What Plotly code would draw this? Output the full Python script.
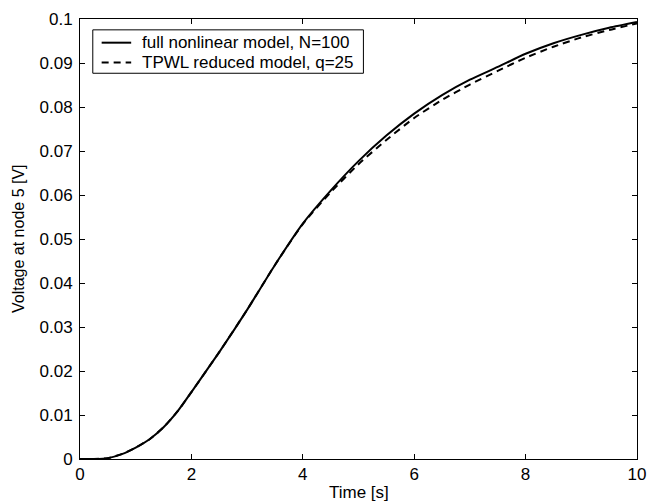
import plotly.graph_objects as go

time_s = [0, 0.25, 0.5, 0.75, 1.0, 1.25, 1.5, 1.75, 2.0, 2.5, 3.0, 3.5, 4.0, 4.5, 5.0, 5.5, 6.0, 6.5, 7.0,
          7.5, 8.0, 8.5, 9.0, 9.5, 10.0]
full_model = [0, 0.0000, 0.0002, 0.0011, 0.0026, 0.0045, 0.0072, 0.0108, 0.0152, 0.0243, 0.0339, 0.0441, 0.0535,
              0.0610, 0.0677, 0.0735, 0.0785, 0.0827, 0.0862, 0.0891, 0.0921, 0.0945, 0.0964, 0.0980, 0.0993]
tpwl_model = [0, 0.0000, 0.0002, 0.0011, 0.0026, 0.0045, 0.0072, 0.0108, 0.0152, 0.0243, 0.0339, 0.0441, 0.0534,
              0.0606, 0.0670, 0.0725, 0.0775, 0.0816, 0.0851, 0.0882, 0.0912, 0.0937, 0.0958, 0.0975, 0.0990]
series_names = ["full nonlinear model, N=100", "TPWL reduced model, q=25"]
x_ticks = [0, 2, 4, 6, 8, 10]
y_ticks = [0, 0.01, 0.02, 0.03, 0.04, 0.05, 0.06, 0.07, 0.08, 0.09, 0.1]
y_tick_text = ["0", "0.01", "0.02", "0.03", "0.04", "0.05", "0.06", "0.07", "0.08", "0.09", "0.1"]

FONT = "Liberation Sans, Arial, Helvetica, sans-serif"
DASH = "7px,5px"

# plot-area pixel geometry
L, R, T, B = 80, 10, 13, 44
W, H = 656, 503
PW, PH = W - L - R, H - T - B


def px_x(px):
    return (px - L) / PW


def px_y(py):
    return (H - B - py) / PH


fig = go.Figure()
fig.add_trace(go.Scatter(x=time_s, y=full_model, mode="lines", name=series_names[0], showlegend=False,
                         line=dict(color="black", width=2, shape="spline", smoothing=0.6)))
fig.add_trace(go.Scatter(x=time_s, y=tpwl_model, mode="lines", name=series_names[1], showlegend=False,
                         line=dict(color="black", width=2, dash=DASH, shape="spline", smoothing=0.6)))

axis_common = dict(showline=True, linecolor="black", linewidth=1, mirror="ticks", ticks="inside",
                   ticklen=5, tickcolor="black", tickwidth=1, showgrid=False, zeroline=False,
                   tickfont=dict(family=FONT, size=17, color="black"))

# legend box drawn manually to match reference geometry
shapes = [
    dict(type="rect", xref="paper", yref="paper", x0=px_x(93), x1=px_x(368), y0=px_y(68), y1=px_y(24),
         line=dict(color="black", width=1), fillcolor="white", layer="above"),
    dict(type="line", xref="paper", yref="paper", x0=px_x(102), x1=px_x(132), y0=px_y(37), y1=px_y(37),
         line=dict(color="black", width=2), layer="above"),
    dict(type="line", xref="paper", yref="paper", x0=px_x(102), x1=px_x(132), y0=px_y(57), y1=px_y(57),
         line=dict(color="black", width=2, dash=DASH), layer="above"),
]
annotations = [
    dict(text=series_names[0], xref="paper", yref="paper", x=px_x(141), y=px_y(37), xanchor="left",
         yanchor="middle", showarrow=False, font=dict(family=FONT, size=17, color="black")),
    dict(text=series_names[1], xref="paper", yref="paper", x=px_x(141), y=px_y(57), xanchor="left",
         yanchor="middle", showarrow=False, font=dict(family=FONT, size=17, color="black")),
    dict(text="Time [s]", xref="paper", yref="paper", x=0.5, y=px_y(493), xanchor="center",
         yanchor="middle", showarrow=False, font=dict(family=FONT, size=17, color="black")),
    dict(text="Voltage at node 5 [V]", xref="paper", yref="paper", x=px_x(17), y=0.5, xanchor="center",
         yanchor="middle", textangle=-90, showarrow=False, font=dict(family=FONT, size=16, color="black")),
]

fig.update_layout(
    width=W, height=H,
    margin=dict(l=L, r=R, t=T, b=B),
    paper_bgcolor="white", plot_bgcolor="white",
    font=dict(family=FONT, size=17, color="black"),
    xaxis=dict(range=[0, 10], tickvals=x_ticks, **axis_common),
    yaxis=dict(range=[0, 0.1], tickvals=y_ticks, ticktext=y_tick_text, ticklabelstandoff=3, **axis_common),
    shapes=shapes,
    annotations=annotations,
    showlegend=False,
)

fig.write_html("out.html", config={"displayModeBar": False},
               post_script="document.body.style.margin='0px';document.body.style.overflow='hidden';")
